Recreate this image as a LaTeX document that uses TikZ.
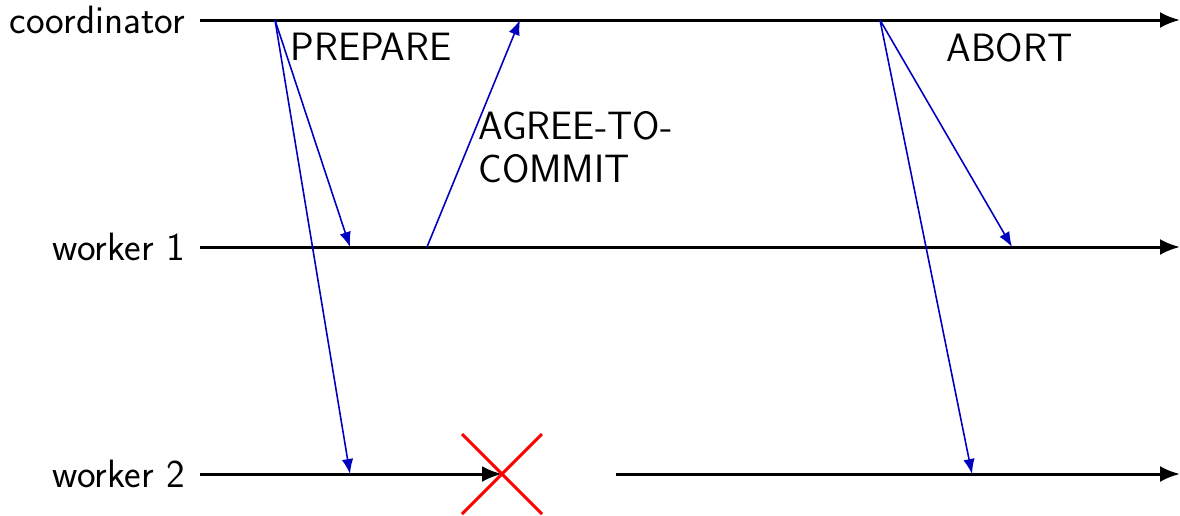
\documentclass[tikz,border=0pt]{standalone}
\usepackage{tikz}
\usetikzlibrary{arrows.meta, positioning}

\begin{document}
\begin{tikzpicture}[
    x=0.02cm, y=-0.02cm,
    lbl/.style={anchor=east, inner sep=0pt, font=\fontsize{22.5}{27}\selectfont\sffamily},
    msglbl/.style={anchor=north west, inner sep=0pt, align=left, font=\fontsize{22.5}{24.5}\selectfont\sffamily},
    timeline/.style={line width=1.7pt, -{Latex[length=4mm, width=3.2mm]}},
    msg/.style={line width=0.9pt, blue!75!black, -{Latex[length=3mm, width=2.3mm]}},
    cross/.style={line width=1.7pt, red}
  ]
  \useasboundingbox (0,0) rectangle (1180,515);

  % process labels
  \node[lbl] (coord) at (185,20) {coordinator};
  \node[lbl] (w1) at (185,247) {worker 1};
  \node[lbl] (w2) at (185,474) {worker 2};

  % time lines
  \coordinate (coordS) at (200,20);
  \coordinate (coordE) at (1180,20);
  \coordinate (w1S) at (200,247);
  \coordinate (w1E) at (1180,247);
  \coordinate (w2S) at (200,474);
  \coordinate (w2X) at (502,474);
  \coordinate (w2R) at (616,474);
  \coordinate (w2E) at (1180,474);
  \draw[timeline] (coordS) -- (coordE);
  \draw[timeline] (w1S) -- (w1E);
  \draw[timeline] (w2S) -- (w2X);
  \draw[timeline] (w2R) -- (w2E);

  % events
  \coordinate (prep) at (275,20);
  \coordinate (prepW1) at (350,247);
  \coordinate (prepW2) at (350,474);
  \coordinate (agree) at (427,247);
  \coordinate (agreeC) at (520,20);
  \coordinate (abort) at (880,20);
  \coordinate (abortW1) at (1012,247);
  \coordinate (abortW2) at (972,474);

  \draw[msg] (prep) -- (prepW1);
  \draw[msg] (prep) -- (prepW2);
  \draw[msg] (agree) -- (agreeC);
  \draw[msg] (abort) -- (abortW1);
  \draw[msg] (abort) -- (abortW2);

  % message labels
  \node[msglbl] (preplbl) at (290,33) {PREPARE};
  \node[msglbl] (agreelbl) at (478,111) {AGREE-TO-\\COMMIT};
  \node[msglbl] (abortlbl) at (946,33) {ABORT};

  % crash of worker 2
  \draw[cross] (462,434) -- (542,514);
  \draw[cross] (462,514) -- (542,434);
\end{tikzpicture}
\end{document}
